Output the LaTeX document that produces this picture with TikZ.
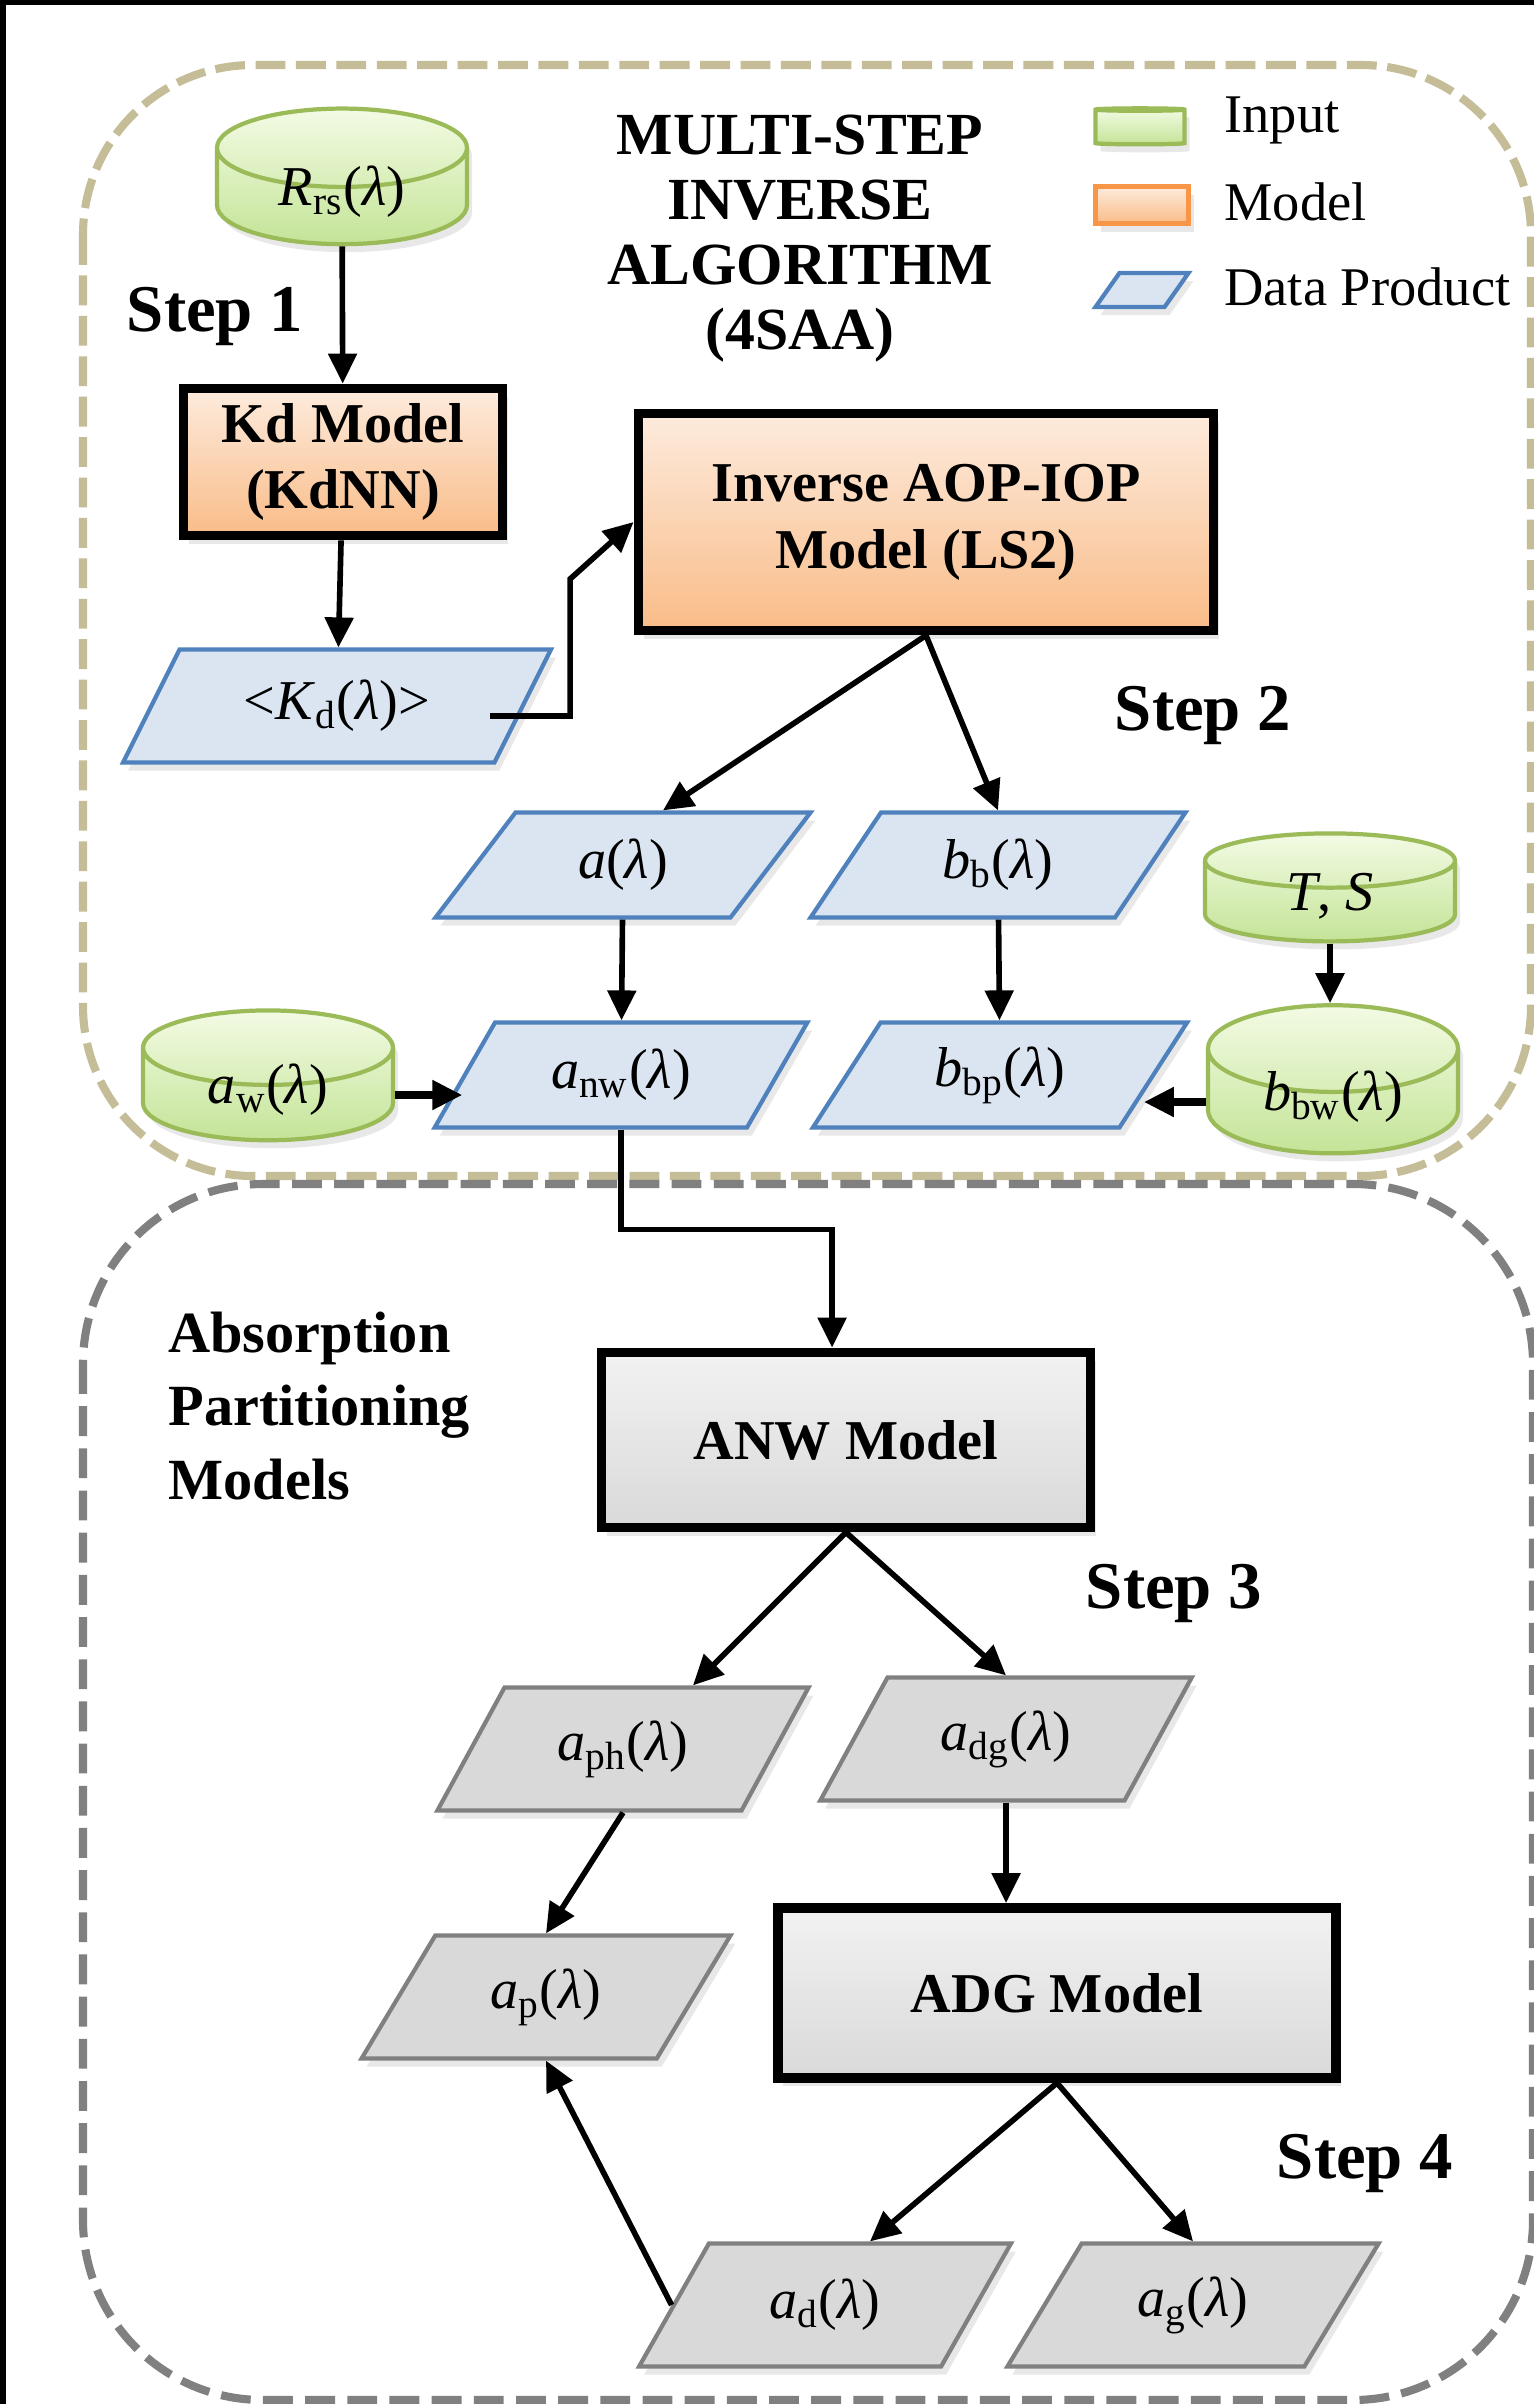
\documentclass[tikz,border=0pt]{standalone}
\usepackage{fontspec}
\setmainfont{Liberation Serif}
\usetikzlibrary{arrows.meta, positioning, calc, shapes.geometric, shadows}
\definecolor{ingreen}{HTML}{9BBB59}
\definecolor{intop}{HTML}{F3FBE4}
\definecolor{inbot}{HTML}{C4E497}
\definecolor{mdtop}{HTML}{FDEBDD}
\definecolor{mdbot}{HTML}{F9BC88}
\definecolor{mdorange}{HTML}{F79646}
\definecolor{dpblue}{HTML}{4F81BD}
\definecolor{dpfill}{HTML}{DBE5F1}
\definecolor{tanline}{HTML}{C4BD97}
\definecolor{grline}{HTML}{808080}
\definecolor{grfill}{HTML}{D9D9D9}
\definecolor{grtop}{HTML}{F2F2F2}

\newcommand{\lam}{\textit{λ}}

\begin{document}
\begin{tikzpicture}[
    >={Triangle[length=3mm, width=2.8mm]},
    font=\fontsize{16}{19}\selectfont,
    softshadow/.style={drop shadow={opacity=0.18, shadow xshift=0.5mm, shadow yshift=-0.8mm}},
    inputnode/.style={cylinder, shape border rotate=90, aspect=0.62, draw=ingreen,
      line width=1.2pt, top color=intop, bottom color=inbot, minimum width=2.5cm,
      minimum height=1.2cm, inner sep=0pt, text height=1.6mm, text depth=-1.4mm, softshadow},
    modelnode/.style={rectangle, draw=black, line width=2.8pt, top color=mdtop,
      bottom color=mdbot, align=center, font=\fontsize{16}{19}\selectfont\bfseries,
      softshadow},
    graymodel/.style={modelnode, top color=grtop, bottom color=grfill},
    datanode/.style={trapezium, trapezium left angle=57, trapezium right angle=123,
      trapezium stretches=true, draw=dpblue, fill=dpfill, line width=1.2pt,
      minimum width=3.75cm, minimum height=1.05cm, inner sep=0pt, softshadow},
    graydata/.style={datanode, draw=grline, fill=grfill, minimum height=1.23cm},
    steplabel/.style={font=\fontsize{19}{22}\selectfont\bfseries},
    link/.style={->, line width=1.6pt},
    boldlink/.style={->, line width=2.3pt},
  ]

  % Background and frame
  \useasboundingbox (0,0) rectangle (15.34,-24.04);
  \fill[black] (0,0) rectangle (15.34,-24.04);
  \fill[white] (0.06,-0.05) rectangle (15.34,-24.04);

  % Dashed groups
  \draw[tanline, line width=2.3pt, dash pattern=on 8.5pt off 3pt, rounded corners=1.7cm]
    (0.83,-0.65) rectangle (15.31,-11.76);
  \draw[grline, line width=2.3pt, dash pattern=on 8.5pt off 3.5pt, rounded corners=1.8cm]
    (0.83,-11.84) rectangle (15.33,-24.0);

  % Title and legend
  \node[font=\fontsize{17}{18.5}\selectfont\bfseries, align=center] (title) at (8.00,-2.39)
    {MULTI-STEP\\INVERSE\\ALGORITHM\\(4SAA)};
  \node[inputnode, minimum width=0.89cm, minimum height=0.36cm, aspect=0.7,
    text height=0.5pt, text depth=0.5pt] (leginput) at (11.40,-1.28) {\phantom{\rule{1pt}{1pt}}};
  \node[modelnode, draw=mdorange, line width=1.2pt, minimum width=0.93cm,
    minimum height=0.37cm, inner sep=0pt] (legmodel) at (11.42,-2.05) {};
  \node[datanode, minimum width=0.93cm, minimum height=0.34cm, trapezium left angle=62,
    trapezium right angle=118] (legdata) at (11.42,-2.90) {\phantom{\rule{1pt}{1pt}}};
  \node[anchor=west, font=\fontsize{15.5}{18}\selectfont] (legtxt1) at (12.12,-1.20) {Input};
  \node[anchor=west, font=\fontsize{15.5}{18}\selectfont] (legtxt2) at (12.12,-2.02) {Model};
  \node[anchor=west, font=\fontsize{15.5}{18}\selectfont] (legtxt3) at (12.12,-2.87) {Data Product};

  % Step 1
  \node[inputnode, minimum height=1.23cm] (rrs) at (3.42,-1.97) {\textit{R}\textsubscript{rs}(\lam)};
  \node[steplabel] (step1) at (2.15,-3.16) {Step 1};
  \node[modelnode, minimum width=3.19cm, minimum height=1.47cm] (kd) at (3.43,-4.62)
    {Kd Model\\(KdNN)};
  \node[datanode, minimum width=4.3cm, minimum height=1.13cm] (kdp) at (3.37,-7.06)
    {<\textit{K}\textsubscript{d}(\lam)>};

  % Step 2
  \node[modelnode, minimum width=5.75cm, minimum height=2.17cm] (inv) at (9.26,-5.22)
    {Inverse AOP-IOP\\Model (LS2)};
  \node[steplabel] (step2) at (12.03,-7.15) {Step 2};
  \node[datanode] (a) at (6.23,-8.65) {\textit{a}(\lam)};
  \node[datanode] (bb) at (9.98,-8.65) {\textit{b}\textsubscript{b}(\lam)};
  \node[inputnode, minimum height=1.08cm] (ts) at (13.30,-9.02) {\textit{T}, \textit{S}};
  \node[inputnode, minimum height=1.19cm] (aw) at (2.68,-10.95) {\textit{a}\textsubscript{w}(\lam)};
  \node[datanode] (anw) at (6.21,-10.75) {\textit{a}\textsubscript{nw}(\lam)};
  \node[datanode] (bbp) at (10.00,-10.75) {\textit{b}\textsubscript{bp}(\lam)};
  \node[inputnode, minimum height=1.15cm] (bbw) at (13.33,-11.02) {\textit{b}\textsubscript{bw}(\lam)};

  % Steps 3 and 4
  \node[font=\fontsize{16.6}{20.8}\selectfont\bfseries, align=left, anchor=west] (abslabel)
    at (1.56,-14.06) {Absorption\\Partitioning\\Models};
  \node[graymodel, minimum width=4.89cm, minimum height=1.75cm] (anwm) at (8.46,-14.40)
    {ANW Model};
  \node[steplabel] (step3) at (11.74,-15.93) {Step 3};
  \node[graydata, minimum width=3.72cm] (aph) at (6.23,-17.49) {\textit{a}\textsubscript{ph}(\lam)};
  \node[graydata, minimum width=3.72cm] (adg) at (10.06,-17.39) {\textit{a}\textsubscript{dg}(\lam)};
  \node[graydata, minimum width=3.70cm] (ap) at (5.46,-19.97) {\textit{a}\textsubscript{p}(\lam)};
  \node[graymodel, minimum width=5.58cm, minimum height=1.70cm] (adgm) at (10.57,-19.93)
    {ADG Model};
  \node[steplabel] (step4) at (13.65,-21.63) {Step 4};
  \node[graydata, minimum width=3.72cm] (ad) at (8.25,-23.05) {\textit{a}\textsubscript{d}(\lam)};
  \node[graydata, minimum width=3.72cm] (ag) at (11.93,-23.05) {\textit{a}\textsubscript{g}(\lam)};

  % Connectors
  \draw[link] (rrs) -- (kd);
  \draw[link] (kd) -- (kdp);
  \draw[link] ([xshift=-3.5mm, yshift=-1mm]kdp.east) -- ++(0.8,0) -- ++(0,1.37) -- (inv.west);
  \draw[link] (inv.south) -- ([xshift=4mm]a.north);
  \draw[link] (inv.south) -- (bb.north);
  \draw[link] (a) -- (anw);
  \draw[link] (bb) -- (bbp);
  \draw[link] (ts) -- (ts |- bbw.north);
  \draw[boldlink] (aw.east) -- (aw.east -| anw.west);
  \draw[boldlink] (bbw.west) -- ([xshift=-1.2mm]bbw.west -| bbp.east);
  \draw[link] (anw.south) -- ++(0,-1.0) -| ([xshift=-1.4mm]anwm.north);
  \draw[link] (anwm.south) -- ([xshift=7mm]aph.north);
  \draw[link] (anwm.south) -- (adg.north);
  \draw[link] (aph.south) -- (ap.north);
  \draw[link] (adg.south) -- (adg.south |- adgm.north);
  \draw[link] (adgm.south) -- ([xshift=4.5mm]ad.north);
  \draw[link] (adgm.south) -- (ag.north);
  \draw[link] (ad.west) -- (ap.south);

\end{tikzpicture}
\end{document}
